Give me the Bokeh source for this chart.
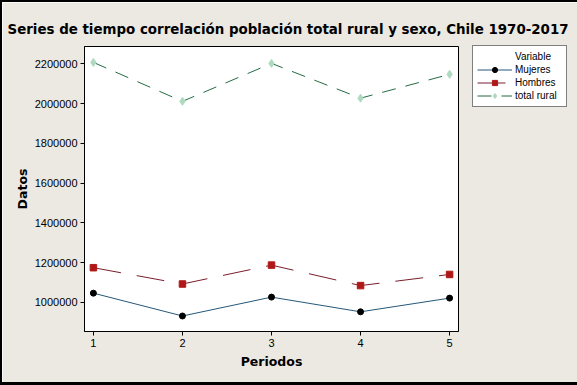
from bokeh.plotting import figure
from bokeh.models import Legend, LegendItem, Range1d, FixedTicker, BasicTickFormatter
from bokeh.embed import file_html
from bokeh.resources import INLINE

periodos = [1, 2, 3, 4, 5]
mujeres = [1047000, 932000, 1027000, 953000, 1022000]
hombres = [1175000, 1093000, 1188000, 1085000, 1141000]
total_rural = [2208000, 2012000, 2203000, 2028000, 2148000]
y_ticks = [1000000, 1200000, 1400000, 1600000, 1800000, 2000000, 2200000]

BG = "#ECE9E3"
FONT = "Liberation Sans"

p = figure(frame_width=374, frame_height=285, output_backend="svg", toolbar_location=None,
           x_range=Range1d(0.9, 5.1), y_range=Range1d(854000, 2288000),
           min_border_left=82, min_border_right=116, min_border_top=44, min_border_bottom=51,
           title="Series de tiempo correlación población total rural y sexo, Chile 1970-2017")
p.styles = {"border-left": "2px solid black", "border-top": "2px solid black",
            "border-right": "3px solid black", "border-bottom": "3px solid black"}

p.background_fill_color = "white"
p.border_fill_color = BG
p.outline_line_color = "black"
p.outline_line_width = 1
p.xgrid.visible = False
p.ygrid.visible = False

p.title.text_font = "DejaVu Sans"
p.title.text_font_style = "bold"
p.title.text_font_size = "13.4px"
p.title.text_color = "black"
p.title.align = "left"
p.title.offset = -77
p.title.standoff = 19

for ax in (p.xaxis[0], p.yaxis[0]):
    ax.major_label_text_font = FONT
    ax.major_label_text_font_size = "11px"
    ax.major_label_text_color = "black"
    ax.axis_label_text_font = "DejaVu Sans"
    ax.axis_label_text_font_style = "bold"
    ax.axis_label_text_font_size = "12.5px"
    ax.axis_label_text_color = "black"
    ax.major_tick_out = 4
    ax.major_tick_in = 0
    ax.minor_tick_out = 0
    ax.minor_tick_in = 0
    ax.axis_line_color = "black"
    ax.major_tick_line_color = "black"
    ax.major_label_standoff = 3

p.xaxis[0].axis_label_standoff = 4
p.yaxis[0].axis_label_standoff = 2
p.xaxis[0].ticker = FixedTicker(ticks=periodos)
p.xaxis[0].axis_label = "Periodos"
p.yaxis[0].ticker = FixedTicker(ticks=y_ticks)
p.yaxis[0].formatter = BasicTickFormatter(use_scientific=False)
p.yaxis[0].axis_label = "Datos"

# series
l_m = p.line(periodos, mujeres, line_color="#25587A", line_width=1)
s_m = p.scatter(periodos, mujeres, marker="circle", size=6, fill_color="black", line_color="black")

l_h = p.line(periodos, hombres, line_color="#7A1E2C", line_width=1, line_dash="28 16")
s_h = p.scatter(periodos, hombres, marker="square", size=6.5, fill_color="#B01818", line_color="#B01818")

l_t = p.line(periodos, total_rural, line_color="#246B44", line_width=1, line_dash="14 10")
s_t = p.scatter(periodos, total_rural, marker="diamond", size=8, fill_color="#AEDBBF", line_color="#AEDBBF")

dummy = p.scatter([], [], marker="circle", size=1, fill_alpha=0, line_alpha=0)

legend = Legend(items=[
    LegendItem(label="Variable", renderers=[dummy]),
    LegendItem(label="Mujeres", renderers=[l_m, s_m]),
    LegendItem(label="Hombres", renderers=[l_h, s_h]),
    LegendItem(label="total rural", renderers=[l_t, s_t]),
], location=(14, 224))
legend.label_text_font = FONT
legend.label_text_font_size = "10px"
legend.label_text_color = "black"
legend.glyph_width = 35
legend.glyph_height = 13
legend.label_height = 13
legend.label_width = 47
legend.label_standoff = 3
legend.spacing = 0
legend.padding = 4
legend.margin = 0
legend.border_line_color = "black"
legend.border_line_width = 1
legend.background_fill_color = "white"
legend.background_fill_alpha = 1
p.add_layout(legend, "right")

open("out.html", "w").write(file_html(p, INLINE))
